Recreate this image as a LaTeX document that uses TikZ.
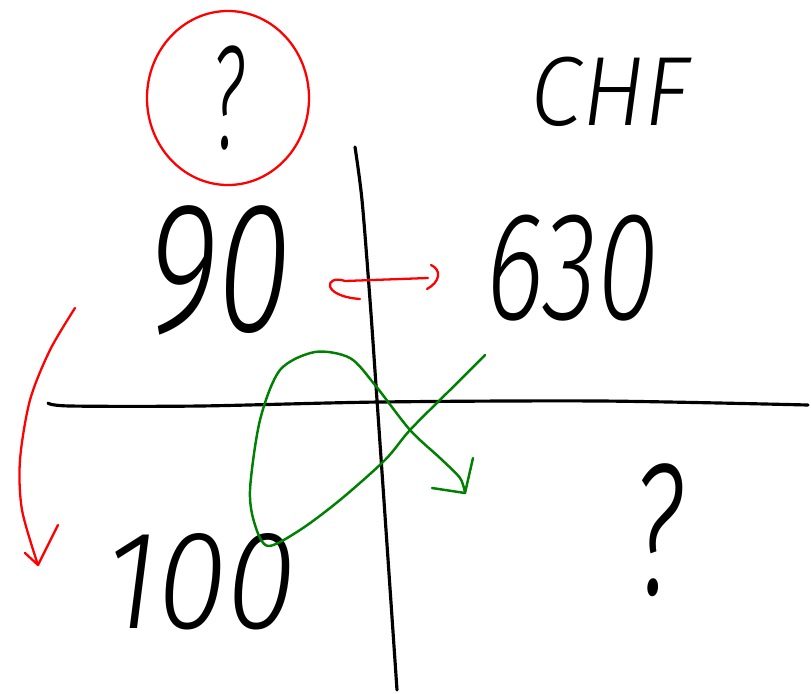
\documentclass[tikz,border=0pt]{standalone}
\usepackage{fontspec}
\setmainfont{Liberation Sans}
\newfontfamily\handfont[ItalicFont={Fira Sans Light Italic}]{Fira Sans Light}
\usepackage{tikz}
\usetikzlibrary{positioning}
\definecolor{inkblack}{HTML}{000000}
\definecolor{inkred}{HTML}{FF0000}
\definecolor{inkgreen}{HTML}{008000}

\begin{document}
\begin{tikzpicture}[
  x=0.02cm, y=-0.02cm,
  axis/.style={draw=inkblack, line width=1.8pt, line cap=round, line join=round},
  redink/.style={draw=inkred, line width=1.3pt, line cap=round, line join=round},
  greenink/.style={draw=inkgreen, line width=1.4pt, line cap=round, line join=round},
  hand/.style={inner sep=0pt, text=inkblack, font=\fontsize{#1}{#1}\selectfont\handfont\itshape}
]
\useasboundingbox (0,0) rectangle (811,693);

% axes
\draw[axis] plot[smooth] coordinates {(355,147) (362,200) (370,300) (377,400) (386,530) (397,690)};
\draw[axis] plot[smooth] coordinates {(48,403) (70,406) (200,406) (380,402) (600,401) (808,405)};

% labels
\node[hand=84] (unknown) at (228,98) {\scalebox{0.5}[1]{?}};
\node[hand=56] (chf) at (610,92) {\scalebox{0.95}[1]{CHF}};
\node[hand=106] (ninety) at (220,270) {\scalebox{0.72}[1]{90}};
\node[hand=88] (sixthirty) at (572,268) {\scalebox{0.72}[1]{630}};
\node[hand=80] (hundred) at (201,582) {\scalebox{0.9}[1]{100}};
\node[hand=107] (result) at (658,530) {\scalebox{0.6}[1]{?}};

% red marks
\draw[redink] (unknown) ellipse [x radius=81, y radius=87];
\coordinate (redtop) at (75,308);
\coordinate (redtip) at (38,565);
\draw[redink] plot[smooth] coordinates {(redtop) (50,350) (30,400) (20,460) (22,510) (redtip)};
\draw[redink] (25,553) -- (redtip) -- (58,525);
\coordinate (hookl) at (345,281);
\coordinate (hookr) at (428,278);
\draw[redink] (360,299) .. controls (320,296) and (325,274) .. (hookl) -- (hookr);
\draw[redink] (431,265) .. controls (442,270) and (440,282) .. (427,289);

% green loop
\coordinate (loopstart) at (485,355);
\coordinate (looptip) at (465,493);
\draw[greenink] plot[smooth] coordinates {(loopstart) (450,390) (410,430) (385,460) (340,500) (300,530)
  (268,546) (255,525) (250,490) (260,420) (280,370) (315,352) (350,358) (375,385) (410,430)
  (440,458) (460,478) (looptip)};
\draw[greenink] (432,488) -- (looptip) -- (473,458);
\end{tikzpicture}
\end{document}
